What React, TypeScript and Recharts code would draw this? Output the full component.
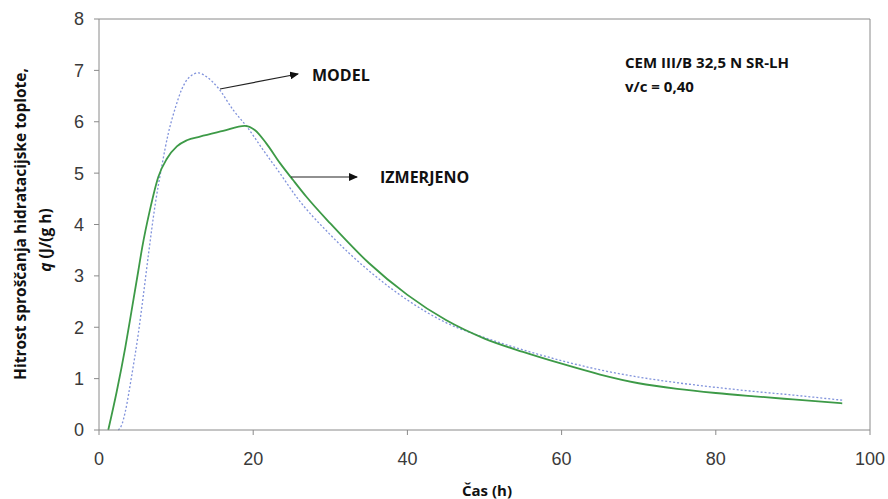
import React from "react";
import { LineChart, Line, XAxis, YAxis, ReferenceLine } from "recharts";

const xTicks = [0, 20, 40, 60, 80, 100];
const yTicks = [0, 1, 2, 3, 4, 5, 6, 7, 8];

const measuredX = [1.2, 2.3, 3.4, 4.2, 5.1, 5.6, 6.6, 7.7, 8.8, 10.1, 11.4, 13.1, 16.1, 18.9, 20.2, 21.7, 23.5, 25.2, 26.9, 30, 35, 40, 45, 50, 55, 60, 65, 70, 75, 80, 85, 90, 96.4];
const measuredY = [0, 0.75, 1.6, 2.3, 3.1, 3.55, 4.28, 4.93, 5.28, 5.52, 5.64, 5.71, 5.82, 5.92, 5.84, 5.58, 5.19, 4.86, 4.54, 4.02, 3.25, 2.63, 2.14, 1.78, 1.52, 1.29, 1.08, 0.91, 0.8, 0.72, 0.655, 0.595, 0.52];

const modelX = [2.5, 3.0, 3.4, 4.2, 5.1, 5.75, 6.4, 7.3, 8.1, 9.0, 9.9, 10.7, 11.8, 12.9, 14.0, 15.5, 17.4, 19.2, 21.3, 23.5, 25.6, 30, 35, 40, 45, 50, 55, 60, 65, 70, 75, 80, 85, 90, 96.4];
const modelY = [0, 0.12, 0.35, 1.02, 1.88, 2.62, 3.4, 4.4, 5.1, 5.78, 6.27, 6.62, 6.88, 6.95, 6.87, 6.65, 6.23, 5.9, 5.45, 4.99, 4.54, 3.8, 3.1, 2.53, 2.09, 1.8, 1.56, 1.35, 1.17, 1.03, 0.92, 0.83, 0.75, 0.68, 0.58];

const measured = measuredX.map((x, i) => ({ x, y: measuredY[i] }));
const model = modelX.map((x, i) => ({ x, y: modelY[i] }));

const axisColor = "#8a8a8a";
const tickStyle = { fontFamily: "Liberation Sans, Arial, sans-serif", fontSize: 18, fill: "#3a3a3a" };
const annFont = "'Open Sans', sans-serif";

export default function App() {
  return (
    <div style={{ position: "absolute", left: 0, top: 0, width: 888, height: 499, background: "#fff" }}>
      <LineChart width={888} height={499} margin={{ top: 19, right: 18, bottom: 39, left: 39 }}>
        <XAxis
          dataKey="x"
          type="number"
          domain={[0, 100]}
          ticks={xTicks}
          allowDuplicatedCategory={false}
          stroke={axisColor}
          tickSize={5}
          tickMargin={17}
          tick={tickStyle}
          height={30}
        />
        <YAxis
          dataKey="y"
          type="number"
          domain={[0, 8]}
          ticks={yTicks}
          stroke={axisColor}
          tickSize={5}
          tickMargin={10}
          tick={tickStyle}
          width={60}
        />
        <ReferenceLine y={8} stroke={axisColor} strokeWidth={1} />
        <ReferenceLine x={100} stroke={axisColor} strokeWidth={1} />
        <Line
          data={model}
          dataKey="y"
          type="monotone"
          stroke="#8193dc"
          strokeWidth={1.3}
          strokeDasharray="2 2"
          dot={false}
          isAnimationActive={false}
        />
        <Line
          data={measured}
          dataKey="y"
          type="monotone"
          stroke="#3d9a47"
          strokeWidth={1.8}
          dot={false}
          isAnimationActive={false}
        />
      </LineChart>
      <svg width={888} height={499} style={{ position: "absolute", left: 0, top: 0, pointerEvents: "none" }}>
        <defs>
          <marker id="ah" markerWidth="9" markerHeight="8" refX="8" refY="4" orient="auto" markerUnits="userSpaceOnUse">
            <path d="M0,0 L9,4 L0,8 Z" fill="#111" />
          </marker>
        </defs>
        <line x1={220} y1={89} x2={298} y2={74} stroke="#222" strokeWidth={1.2} markerEnd="url(#ah)" />
        <text x={312} y={81} fontFamily={annFont} fontWeight="bold" fontSize={16} fill="#111">MODEL</text>
        <line x1={291} y1={177} x2={357} y2={177} stroke="#222" strokeWidth={1.2} markerEnd="url(#ah)" />
        <text x={380} y={183} fontFamily={annFont} fontWeight="bold" fontSize={16} fill="#111">IZMERJENO</text>
        <text x={625} y={68} fontFamily={annFont} fontWeight="bold" fontSize={15} fill="#111">CEM III/B 32,5 N SR-LH</text>
        <text x={625} y={92} fontFamily={annFont} fontWeight="bold" fontSize={15} fill="#111">v/c = 0,40</text>
        <text x={487} y={496} textAnchor="middle" fontFamily={annFont} fontWeight="bold" fontSize={15} fill="#111">Čas (h)</text>
        <text transform="translate(26,224) rotate(-90)" textAnchor="middle" fontFamily={annFont} fontWeight="bold" fontSize={15.5} fill="#111">Hitrost sproščanja hidratacijske toplote,</text>
        <text transform="translate(51,240) rotate(-90)" textAnchor="middle" fontFamily={annFont} fontWeight="bold" fontSize={15.5} fill="#111">
          <tspan fontStyle="italic">q</tspan> (J/(g h)
        </text>
      </svg>
    </div>
  );
}
